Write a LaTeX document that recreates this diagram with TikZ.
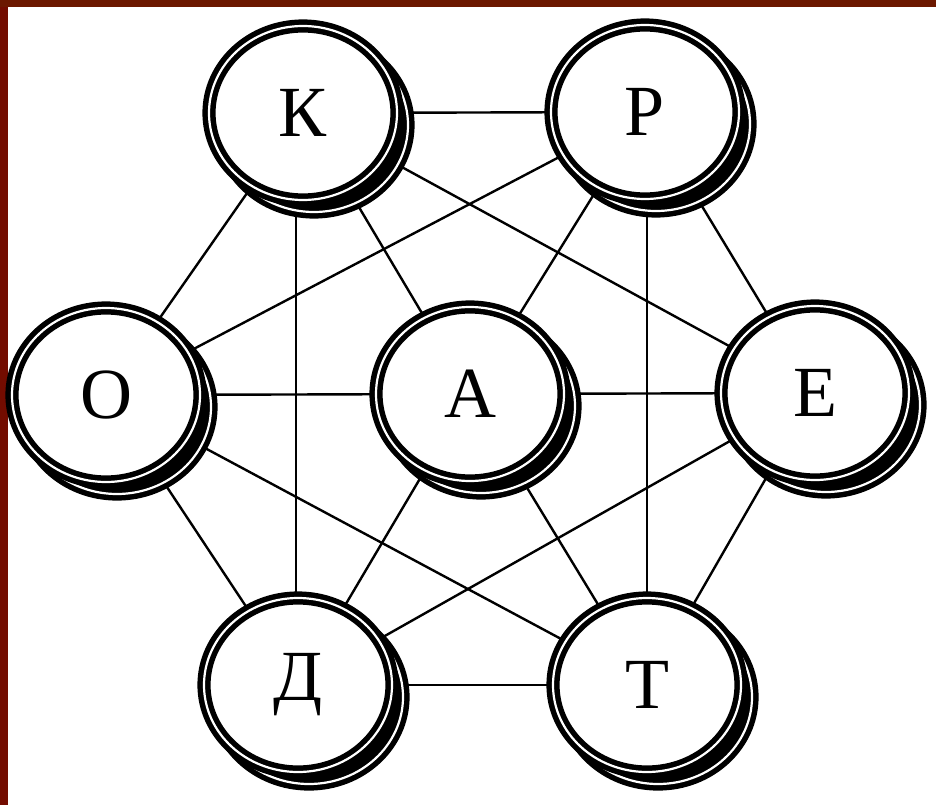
\documentclass[tikz,border=0pt]{standalone}
\usepackage{fontspec}
\setmainfont{Liberation Serif}
\usetikzlibrary{shapes.geometric,backgrounds}
\definecolor{frameleft}{RGB}{115,12,0}
\definecolor{frametop}{RGB}{108,24,0}
\tikzset{
  ring/.style={ellipse, draw=black, line width=5.5pt, double=white, double distance=2.2pt,
    minimum width=188pt, minimum height=174pt, inner sep=0pt},
  letter/.style={ring, fill=white, font=\fontsize{72}{72}\selectfont},
  shade/.style={ring, fill=black},
  edge/.style={draw=black, line width=2.4pt}
}
\begin{document}
\begin{tikzpicture}[x=1pt,y=-1pt]
\useasboundingbox (0,0) rectangle (936,805);
% nodes
\node[letter] (K) at (303,113) {К};
\node[letter] (R) at (645,112) {Р};
\node[letter] (O) at (106,395) {О};
\node[letter] (A) at (470,394) {А};
\node[letter] (E) at (815,393) {Е};
\node[letter] (D) at (298,685) {Д};
\node[letter] (T) at (647,685) {Т};
\begin{scope}[on background layer]
  \fill[white] (0,0) rectangle (936,805);
  \fill[frameleft] (0,0) rectangle (8,805);
  \fill[frametop] (0,0) rectangle (936,7);
  \foreach \a/\b in {K/R,K/O,K/A,K/E,R/O,R/A,R/E,O/A,A/E,O/D,O/T,A/D,A/T,E/D,E/T,D/T}
    \draw[edge] (\a.center) -- (\b.center);
  \draw[edge] (K.center -| 296,0) -- (D.center -| 296,0);
  \draw[edge] (R.center -| 647,0) -- (T.center -| 647,0);
  \foreach \n in {K,R,O,A,E,D,T}
    \node[shade] (\n s) at ([xshift=11pt,yshift=-12pt]\n.center) {};
\end{scope}
\end{tikzpicture}
\end{document}
